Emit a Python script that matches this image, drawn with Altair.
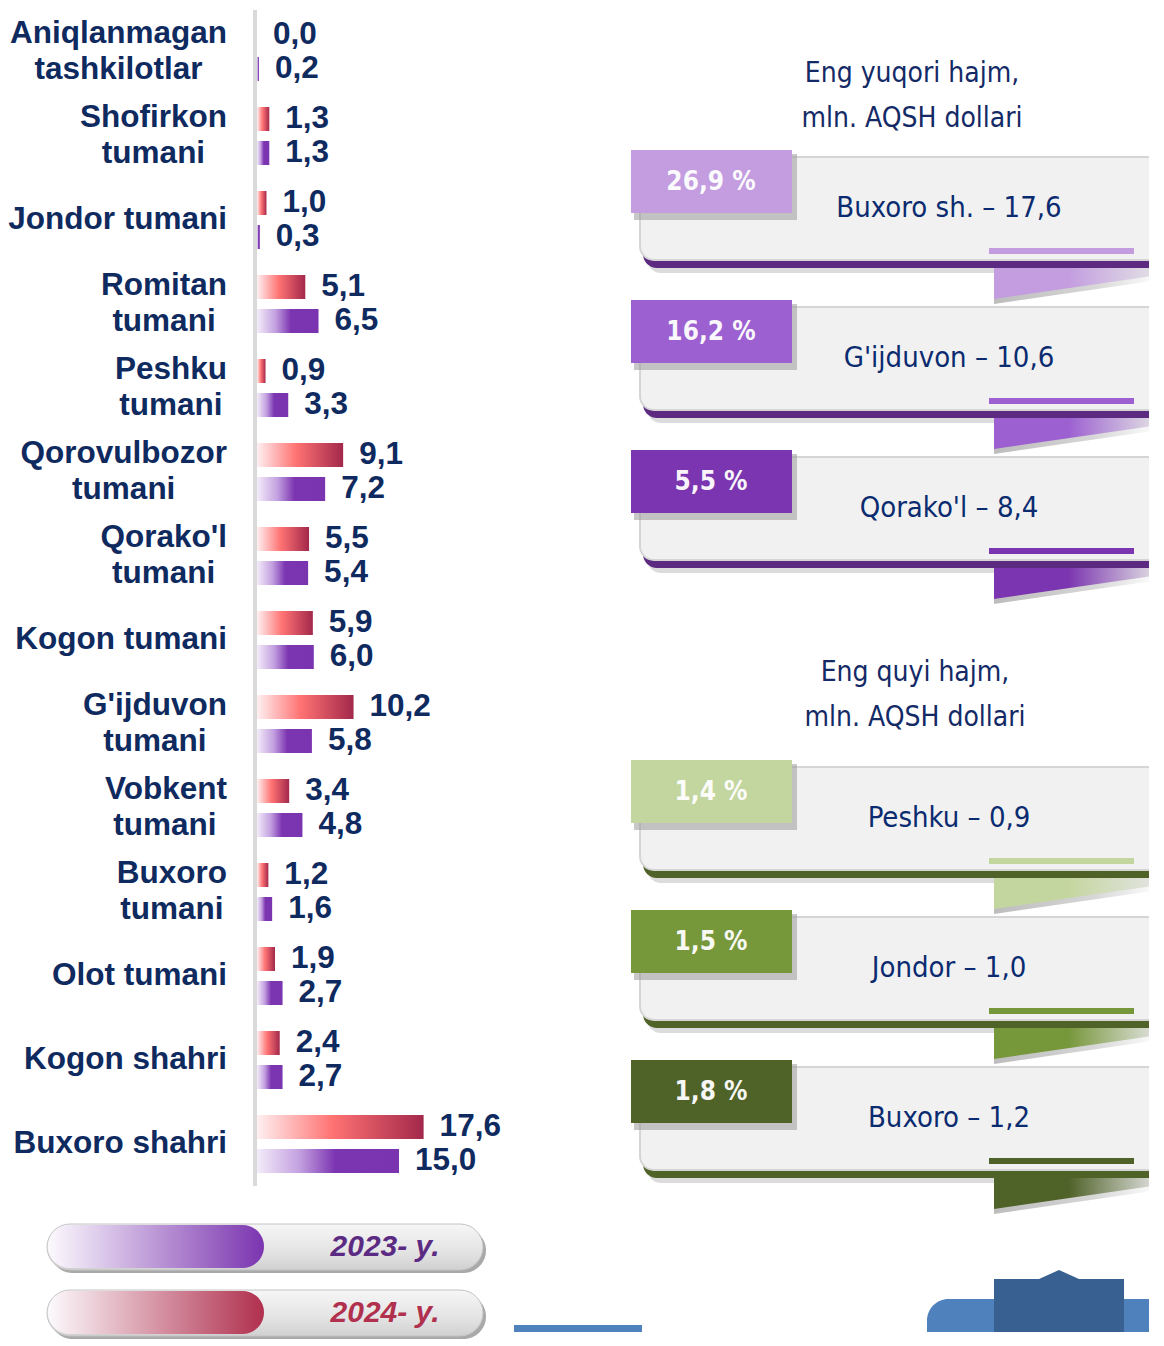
import altair as alt
import pandas as pd

# ---------------- data ----------------
categories = [
    "Aniqlanmagan\ntashkilotlar", "Shofirkon\ntumani", "Jondor tumani",
    "Romitan\ntumani", "Peshku\ntumani", "Qorovulbozor\ntumani",
    "Qorako'l\ntumani", "Kogon tumani", "G'ijduvon\ntumani",
    "Vobkent\ntumani", "Buxoro\ntumani", "Olot tumani",
    "Kogon shahri", "Buxoro shahri",
]
values_2024 = [0.0, 1.3, 1.0, 5.1, 0.9, 9.1, 5.5, 5.9, 10.2, 3.4, 1.2, 1.9, 2.4, 17.6]
values_2023 = [0.2, 1.3, 0.3, 6.5, 3.3, 7.2, 5.4, 6.0, 5.8, 4.8, 1.6, 2.7, 2.7, 15.0]
legend_years = ["2023- y.", "2024- y."]

top_title = "Eng yuqori hajm,\nmln. AQSH dollari"
top_shares = ["26,9 %", "16,2 %", "5,5 %"]
top_names = ["Buxoro sh. – 17,6", "G'ijduvon – 10,6", "Qorako'l – 8,4"]
low_title = "Eng quyi hajm,\nmln. AQSH dollari"
low_shares = ["1,4  %", "1,5 %", "1,8 %"]
low_names = ["Peshku – 0,9", "Jondor – 1,0", "Buxoro  – 1,2"]

# ---------------- styles ----------------
NAVY = "#0f2a5f"
NAME_BLUE = "#0b2b70"
TITLE_BLUE = "#142a66"
BOLD = "Liberation Sans, Arial, sans-serif"
NARROW = "Liberation Sans Narrow, Arial Narrow, DejaVu Sans Condensed, sans-serif"
TAB_COLORS = ["#c39de0", "#9c60d1", "#7b35b0", "#c4d69f", "#77973b", "#4f6228"]
DARK_COLORS = ["#5c2a80"] * 3 + ["#4f6228"] * 3
LEGEND_FILL = {"2023- y.": "#7b35b0", "2024- y.": "#b0304e"}
LEGEND_TEXT = {"2023- y.": "#5b2a82", "2024- y.": "#b0304e"}


def grad(stops, horizontal=True):
    return alt.LinearGradient(
        gradient="linear",
        stops=[alt.GradientStop(color=c, offset=o) for o, c in stops],
        x1=0, y1=0, x2=1 if horizontal else 0, y2=0 if horizontal else 1,
    )


RED_GRAD = grad([(0, "#fff0f1"), (0.45, "#ff7373"), (1, "#a3284b")])
PUR_GRAD = grad([(0, "#f3ecf9"), (0.3, "#c3a0e0"), (0.55, "#7c35b1"), (1, "#7b34b0")])

# Arial/Liberation Sans Bold advance widths (1/1000 em) for label centring
AW = {" ": 278, "'": 238, "A": 722, "B": 722, "G": 778, "J": 556, "K": 722, "O": 778,
      "P": 667, "Q": 778, "R": 722, "S": 667, "V": 667, "a": 556, "b": 611, "c": 556,
      "d": 611, "e": 556, "f": 333, "g": 611, "h": 611, "i": 278, "j": 278, "k": 556,
      "l": 278, "m": 889, "n": 611, "o": 611, "p": 611, "q": 611, "r": 389, "s": 556,
      "t": 333, "u": 611, "v": 556, "x": 556, "y": 556, "z": 500}


def tw(s, size):
    return sum(AW.get(ch, 556) for ch in s) * size / 1000.0


def fmt(v):
    return f"{v:.1f}".replace(".", ",")


# ---------------- left: bar chart ----------------
BW, BH = 284, 1176
XMAX = 30.0
PXU = BW / XMAX
GAP = 30
FS = 31.5
ROW_OFF = 17
LINE_OFF = 18

left = pd.DataFrame({
    "key": [c.replace("\n", " ") for c in categories],
    "line1": [c.split("\n")[0] for c in categories],
    "line2": [c.split("\n")[1] if "\n" in c else "" for c in categories],
    "v24": values_2024,
    "v23": values_2023,
})
left["two"] = left["line2"] != ""
left["l24"] = left["v24"].map(fmt)
left["l23"] = left["v23"].map(fmt)
left["cx2"] = [-(GAP + tw(s, FS) / 2) / PXU for s in left["line1"]]

xs = alt.Scale(domain=[0, XMAX], nice=False, zero=True)
Y = alt.Y("key:N", sort=list(left["key"]), axis=None,
          scale=alt.Scale(paddingInner=0, paddingOuter=0))


def X(f):
    return alt.X(f, scale=xs, axis=None)


base = alt.Chart(left)
axis_line = base.mark_rule(color="#d9d9d9", strokeWidth=4).encode(
    x=alt.value(-2), y=alt.value(0), y2=alt.value(BH))
b24 = base.mark_bar(size=24, yOffset=-ROW_OFF, color=RED_GRAD).encode(x=X("v24:Q"), y=Y)
b23 = base.mark_bar(size=24, yOffset=ROW_OFF, color=PUR_GRAD).encode(x=X("v23:Q"), y=Y)
txt_style = dict(baseline="middle", font=BOLD, fontSize=FS, fontWeight="bold", color=NAVY)
t24 = base.mark_text(align="left", dx=16, dy=-ROW_OFF, **txt_style).encode(
    x=X("v24:Q"), y=Y, text="l24:N")
t23 = base.mark_text(align="left", dx=16, dy=ROW_OFF, **txt_style).encode(
    x=X("v23:Q"), y=Y, text="l23:N")
c_one = base.transform_filter("!datum.two").mark_text(align="right", **txt_style).encode(
    x=alt.value(-GAP), y=Y, text="line1:N")
c_top = base.transform_filter("datum.two").mark_text(align="right", dy=-LINE_OFF, **txt_style).encode(
    x=alt.value(-GAP), y=Y, text="line1:N")
c_bot = base.transform_filter("datum.two").mark_text(align="center", dy=LINE_OFF, **txt_style).encode(
    x=X("cx2:Q"), y=Y, text="line2:N")

left_chart = alt.layer(axis_line, b24, b23, t24, t23, c_one, c_top, c_bot).properties(
    width=BW, height=BH)

# ---------------- legend ----------------
LH = 146
PILL_TOP, PILL_STEP, PILL_H = 38, 66, 46
leg = pd.DataFrame({"year": legend_years})
leg["i"] = range(len(leg))
leg["y1"] = PILL_TOP + leg["i"] * PILL_STEP
leg["y2"] = leg["y1"] + PILL_H
leg["sy1"] = leg["y1"] + 4
leg["sy2"] = leg["y2"] + 3
leg["fy1"] = leg["y1"] + 1
leg["fy2"] = leg["y2"] - 2
leg["ym"] = (leg["y1"] + leg["y2"]) / 2
leg["tc"] = leg["year"].map(LEGEND_TEXT)

LX = alt.Scale(domain=[0, BW], nice=False, zero=False)
LY = alt.Scale(domain=[0, LH], nice=False, zero=False, reverse=True)


def ly(f):
    return alt.Y(f"{f}:Q", scale=LY, axis=None)


lbase = alt.Chart(leg)
pill_shadow = lbase.mark_rect(cornerRadius=23, color="#9a9a9a", opacity=0.85).encode(
    x=alt.value(-207), x2=alt.value(229), y=ly("sy1"), y2=alt.Y2("sy2"))
pill_body = lbase.mark_rect(
    cornerRadius=23, stroke="#c4c4c4", strokeWidth=1,
    color=grad([(0, "#f6f6f6"), (0.6, "#e4e4e4"), (1, "#d0d0d0")], horizontal=False),
).encode(x=alt.value(-210), x2=alt.value(226), y=ly("y1"), y2=alt.Y2("y2"))
pill_fills = []
for yr in legend_years:
    pill_fills.append(
        lbase.transform_filter(alt.datum.year == yr).mark_rect(
            cornerRadius=22,
            color=grad([(0, "#fcfafd"), (1, LEGEND_FILL[yr])]),
        ).encode(x=alt.value(-209), x2=alt.value(7), y=ly("fy1"), y2=alt.Y2("fy2"))
    )
pill_text = lbase.mark_text(
    align="center", baseline="middle", font=BOLD, fontSize=30,
    fontWeight="bold", fontStyle="italic",
).encode(x=alt.value(128), y=ly("ym"), text="year:N",
         color=alt.Color("tc:N", scale=None))

deco_mid = pd.DataFrame({"x1": [257], "x2": [385], "y1": [139], "y2": [LH]})
mid_rect = alt.Chart(deco_mid).mark_rect(color="#4f81bd").encode(
    x=alt.X("x1:Q", scale=LX, axis=None), x2="x2", y=ly("y1"), y2=alt.Y2("y2"))

legend_chart = alt.layer(pill_shadow, pill_body, *pill_fills, pill_text, mid_rect).properties(
    width=BW, height=LH)

# ---------------- right: callout boxes ----------------
RW, RH = 530, 1322
RX = alt.Scale(domain=[0, RW], nice=False, zero=False)
RY = alt.Scale(domain=[0, RH], nice=False, zero=False, reverse=True)


def rx(f):
    return alt.X(f"{f}:Q", scale=RX, axis=None)


def ry(f):
    return alt.Y(f"{f}:Q", scale=RY, axis=None)


G1_TOP, G2_TOP, STEP = 140, 750, 150
boxes = pd.DataFrame({
    "share": top_shares + low_shares,
    "name": top_names + low_names,
    "tab": TAB_COLORS,
    "dark": DARK_COLORS,
})
boxes["top"] = [G1_TOP + i * STEP for i in range(3)] + [G2_TOP + i * STEP for i in range(3)]
T = boxes["top"]
boxes["tab_x1"], boxes["tab_x2"], boxes["tab_y1"], boxes["tab_y2"] = 12, 173, T, T + 63
boxes["tsh_x1"], boxes["tsh_x2"], boxes["tsh_y1"], boxes["tsh_y2"] = 15, 178, T + 4, T + 70
boxes["box_x1"], boxes["box_x2"], boxes["box_y1"], boxes["box_y2"] = 21, RW + 30, T + 7, T + 110
boxes["drk_x1"], boxes["drk_x2"], boxes["drk_y1"], boxes["drk_y2"] = 24, RW + 30, T + 14, T + 118
boxes["bsh_x1"], boxes["bsh_x2"], boxes["bsh_y1"], boxes["bsh_y2"] = 28, RW + 30, T + 20, T + 123
boxes["sb_x1"], boxes["sb_x2"], boxes["sb_y1"], boxes["sb_y2"] = 370, 515, T + 98, T + 104
boxes["pct_x"], boxes["pct_y"] = 92, T + 32
boxes["nm_x"], boxes["nm_y"] = 330, T + 58

rbase = alt.Chart(boxes)


def rrect(prefix, **mk):
    return rbase.mark_rect(clip=True, **mk).encode(
        x=rx(f"{prefix}_x1"), x2=alt.X2(f"{prefix}_x2"),
        y=ry(f"{prefix}_y1"), y2=alt.Y2(f"{prefix}_y2"))


box_shadow = rrect("bsh", cornerRadius=14, color="#dcdcdc")
box_dark = rrect("drk", cornerRadius=14).encode(color=alt.Color("dark:N", scale=None))
box_body = rrect("box", cornerRadius=14, color="#f1f1f1", stroke="#d5d5d5", strokeWidth=2)
small_bar = rrect("sb").encode(color=alt.Color("tab:N", scale=None))
tab_shadow = rrect("tsh", color="#9a9a9a", opacity=0.55)
tab = rrect("tab").encode(color=alt.Color("tab:N", scale=None))
pct_text = rbase.mark_text(
    align="center", baseline="middle", font=NARROW, fontSize=26, fontWeight="bold",
    color="#ffffff", opacity=0.95,
).encode(x=rx("pct_x"), y=ry("pct_y"), text="share:N")
name_text = rbase.mark_text(
    align="center", baseline="middle", font=NARROW, fontSize=29, color=NAME_BLUE,
).encode(x=rx("nm_x"), y=ry("nm_y"), text="name:N")

ribbons = []
for top, col in zip(boxes["top"], boxes["tab"]):
    sh = pd.DataFrame({"x": [375, RW + 10], "y": [top + 119, top + 119],
                       "y2": [top + 154, top + 130]})
    ribbons.append(
        alt.Chart(sh).mark_area(
            clip=True, color=grad([(0, "#bdbdbd"), (0.6, "#d6d6d6"), (1, "#ffffff")])
        ).encode(x=rx("x"), y=ry("y"), y2=alt.Y2("y2"))
    )
    rb = pd.DataFrame({"x": [375, RW + 10], "y": [top + 118, top + 118],
                       "y2": [top + 149, top + 125]})
    ribbons.append(
        alt.Chart(rb).mark_area(
            clip=True, color=grad([(0, col), (0.45, col), (1, "#e4e4e4")])
        ).encode(x=rx("x"), y=ry("y"), y2=alt.Y2("y2"))
    )

# y is the centre of the first title line (second line follows below)
titles = pd.DataFrame({"t": [top_title, low_title], "x": [293, 296], "y": [64, 663]})
title_text = alt.Chart(titles).mark_text(
    align="center", baseline="middle", font=NARROW, fontSize=28, lineBreak="\n",
    lineHeight=45, color=TITLE_BLUE,
).encode(x=rx("x"), y=ry("y"), text="t:N")

deco = pd.DataFrame({"x1": [308, 375], "x2": [RW + 20, 505], "y1": [1289, 1269],
                     "y2": [RH + 10, 1332]})
deco_light = alt.Chart(deco.iloc[[0]]).mark_rect(
    clip=True, cornerRadiusTopLeft=30, color="#4f81bd").encode(
    x=rx("x1"), x2=alt.X2("x2"), y=ry("y1"), y2=alt.Y2("y2"))
deco_dark = alt.Chart(deco.iloc[[1]]).mark_rect(clip=True, color="#386192").encode(
    x=rx("x1"), x2=alt.X2("x2"), y=ry("y1"), y2=alt.Y2("y2"))
bump = pd.DataFrame({"x": [420, 440, 460], "y": [1269, 1260, 1269], "y2": [1269, 1269, 1269]})
deco_bump = alt.Chart(bump).mark_area(clip=True, color="#386192").encode(
    x=rx("x"), y=ry("y"), y2=alt.Y2("y2"))

right_chart = alt.layer(
    title_text, box_shadow, box_dark, box_body, small_bar, *ribbons,
    tab_shadow, tab, pct_text, name_text, deco_light, deco_dark, deco_bump,
).properties(width=RW, height=RH)

# ---------------- assemble ----------------
left_col = alt.vconcat(left_chart, legend_chart, spacing=0, bounds="flush")
chart = alt.hconcat(left_col, right_chart, spacing=362, bounds="flush").properties(
    padding=0).configure_view(strokeWidth=0)

chart.save("out.html", embed_options={"renderer": "svg", "actions": False})
